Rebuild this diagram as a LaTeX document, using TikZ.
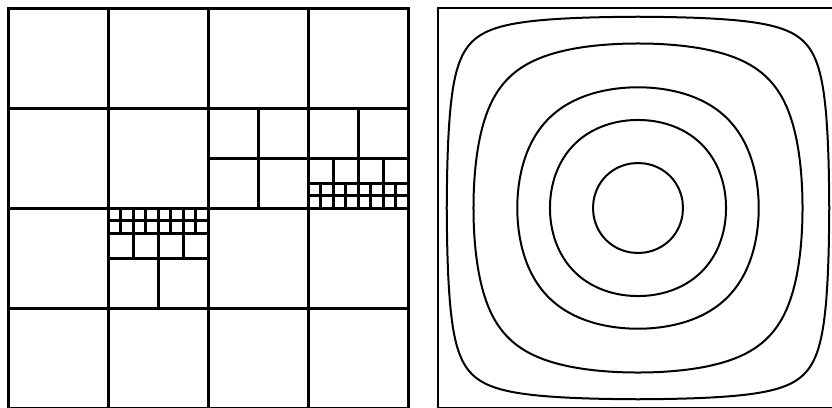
\documentclass[tikz,border=0pt]{standalone}
\begin{document}
\begin{tikzpicture}[x=1pt,y=-1pt,
  grid/.style={line width=3pt,black},
  frame/.style={line width=2.5pt,black},
  contour/.style={line width=2pt,black,line join=round}]
\useasboundingbox (0,0) rectangle (832,407);
% ---------- left: quadtree mesh ----------
\draw[grid] (8,8) rectangle (408,408.5);
\foreach \v in {108,208,308} {
  \draw[grid] (\v,8) -- (\v,408.5);
  \draw[grid] (8,\v) -- (408,\v);
}
% cell [208,308]x[108,208]
\draw[grid] (258,108) -- (258,208);
\draw[grid] (208,158) -- (408,158);
% cell [308,408]x[108,208]
\draw[grid] (358,108) -- (358,208);
\draw[grid] (308,183) -- (408,183);
\foreach \v in {333,383} \draw[grid] (\v,158) -- (\v,208);
\draw[grid] (308,195.5) -- (408,195.5);
\foreach \v in {320.5,345.5,370.5,395.5} \draw[grid] (\v,183) -- (\v,208);
% cell [108,208]x[208,308]
\draw[grid] (108,258) -- (208,258);
\draw[grid] (158,208) -- (158,308);
\draw[grid] (108,233) -- (208,233);
\foreach \v in {133,183} \draw[grid] (\v,208) -- (\v,258);
\draw[grid] (108,220.5) -- (208,220.5);
\foreach \v in {120.5,145.5,170.5,195.5} \draw[grid] (\v,208) -- (\v,233);
% ---------- right: contour plot ----------
\draw[frame] (438,8) rectangle (838,408.5);
\foreach \c in {0.068,0.275,0.583,0.77,0.938} {
  \draw[contour] plot[domain=0:360,samples=361,variable=\t]
   ({638 + 400/180*(cos(\t)>=0 ? 1 : -1)*acos(pow(\c,cos(\t)*cos(\t)))},
    {208 + 400/180*(sin(\t)>=0 ? 1 : -1)*acos(pow(\c,sin(\t)*sin(\t)))}) -- cycle;
}
\end{tikzpicture}
\end{document}
